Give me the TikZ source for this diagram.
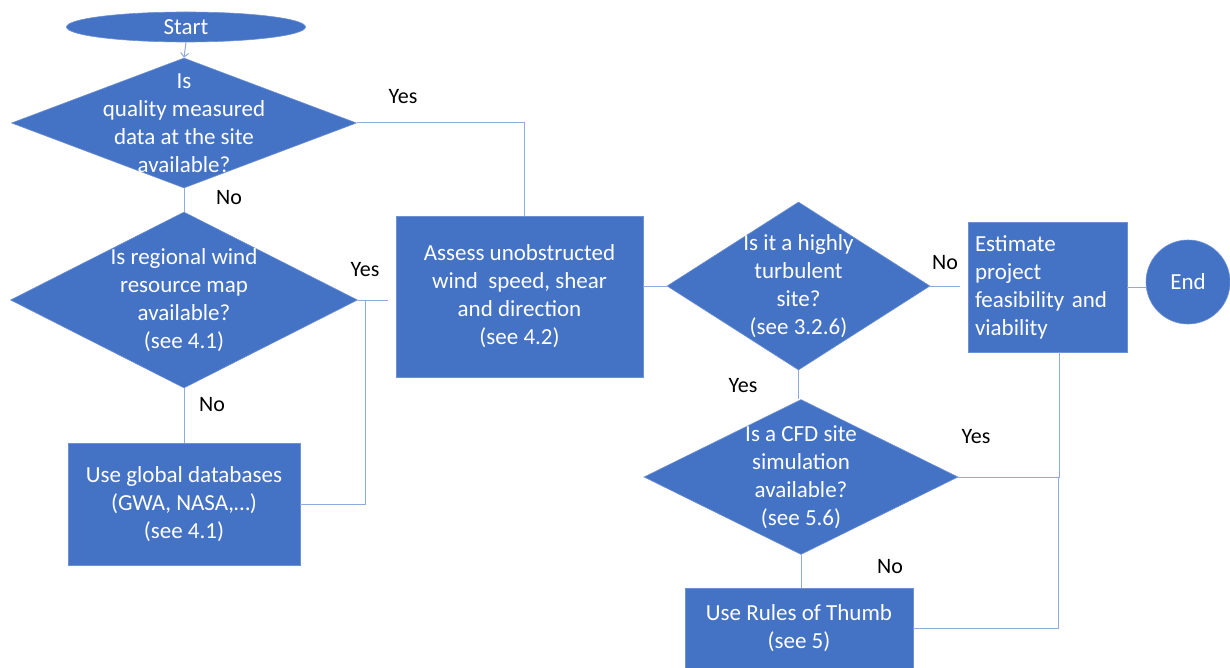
\documentclass[tikz,border=0pt]{standalone}
\usepackage{fontspec}
\setmainfont{Carlito}
\usetikzlibrary{arrows.meta, shapes.geometric}
\definecolor{shapeFill}{RGB}{ 68, 114, 196}
\definecolor{shapeEdge}{RGB}{110, 145, 210}
\definecolor{linkBlue}{RGB}{143, 170, 220}
\tikzset{
  terminal/.style 2 args={
    ellipse, draw=shapeEdge, fill=shapeFill, line width=0.6pt,
    minimum width=#1, minimum height=#2, inner sep=0pt,
    text=white, font=\fontsize{23}{28}\selectfont,
  },
  decision/.style 2 args={
    diamond, draw=shapeEdge, fill=shapeFill, line width=0.6pt,
    minimum width=#1, minimum height=#2, inner sep=0pt,
  },
  dtext/.style={
    text=white, align=center, inner sep=0pt,
    font=\fontsize{23}{28}\selectfont,
  },
  procbox/.style 2 args={
    rectangle, draw=shapeEdge, fill=shapeFill, line width=0.6pt,
    minimum width=#1, minimum height=#2, inner sep=0pt,
    text=white, align=center, font=\fontsize{23}{28}\selectfont,
  },
  answer/.style={
    font=\fontsize{22}{26}\selectfont, text=black, inner sep=0pt,
  },
  link/.style={
    draw=linkBlue, line width=1pt,
  },
}

\begin{document}
\begin{tikzpicture}[x=1pt, y=-1pt]

\useasboundingbox (0,0) rectangle (1230,668);
\fill[white] (0,0) rectangle (1230,668);

% =========================================================================
% left column: measured data / wind map / global databases
% =========================================================================

\node[terminal={239}{30}] (start) at (186,27) {Start};

\node[decision={345}{130},
      label={[dtext]center:{Is\\quality measured\\data at the site\\available?}}]
   (d1) at (184,123) {};

\node[decision={347}{176},
      label={[dtext]center:{Is regional wind\\resource map\\available?\\(see 4.1)}}]
   (d2) at (184,300) {};

\node[procbox={232}{122}] (dbase) at (184,504) {%
  Use global databases\\(GWA, NASA,\dots)\\(see 4.1)};

% =========================================================================
% middle: assessment and turbulence checks
% =========================================================================

\node[procbox={247}{161}] (assess) at (519.5,296.5) {%
  Assess unobstructed\\wind~ speed, shear\\and direction\\(see 4.2)};

\node[decision={263}{168},
      label={[dtext]center:{Is it a highly\\turbulent\\site?\\(see 3.2.6)}}]
   (d3) at (798.5,286) {};

\node[decision={314}{155},
      label={[dtext]center:{Is a CFD site\\simulation\\available?\\(see 5.6)}}]
   (d4) at (801,477) {};

\node[procbox={228}{80}] (rules) at (799,628) {%
  Use Rules of Thumb\\(see 5)};

% =========================================================================
% right: feasibility and end
% =========================================================================

\node[procbox={159}{130}, text width=145pt, align=left] (est) at (1047.5,287) {%
  Estimate\\project\\feasibility and\\viability};

\node[terminal={84}{84}] (end) at (1188,282) {End};

% =========================================================================
% yes / no labels
% =========================================================================

\node[answer] (yes1) at (403,97)  {Yes};
\node[answer] (no1)  at (229,198) {No};
\node[answer] (yes2) at (365,270) {Yes};
\node[answer] (no2)  at (212,405) {No};
\node[answer] (no3)  at (945,263) {No};
\node[answer] (yes3) at (743,386) {Yes};
\node[answer] (yes4) at (976,437) {Yes};
\node[answer] (no4)  at (890,567) {No};

% =========================================================================
% connectors
% =========================================================================

\draw[link, -{Straight Barb[length=4pt, width=8pt]}] (start.south) -- (d1.north);
\draw[link] (d1.south) -- (d2.north);
\draw[link] (d2.south) -- (dbase.north);
\draw[link] (d1.east) -| ([xshift=5pt]assess.north);
\draw[link, shorten >=8pt] (d2.east) -- (d2.east -| assess.west);
\draw[link] (dbase.east) -| ([xshift=8pt]d2.east);

\draw[link] (d3.west -| assess.east) -- (d3.west);
\draw[link, shorten >=8pt] (d3.east) -- (d3.east -| est.west);
\draw[link] (est.east) -- (est.east -| end.west);
\draw[link] (d3.south) -- (d3.south |- d4.north);
\draw[link] (d4.south) -- (d4.south |- rules.north);

\coordinate (joinpt) at (1058,478);
\draw[link] ([xshift=12pt]est.south) |- (d4.east);
\draw[link] (rules.east) -| (joinpt);

\end{tikzpicture}
\end{document}
